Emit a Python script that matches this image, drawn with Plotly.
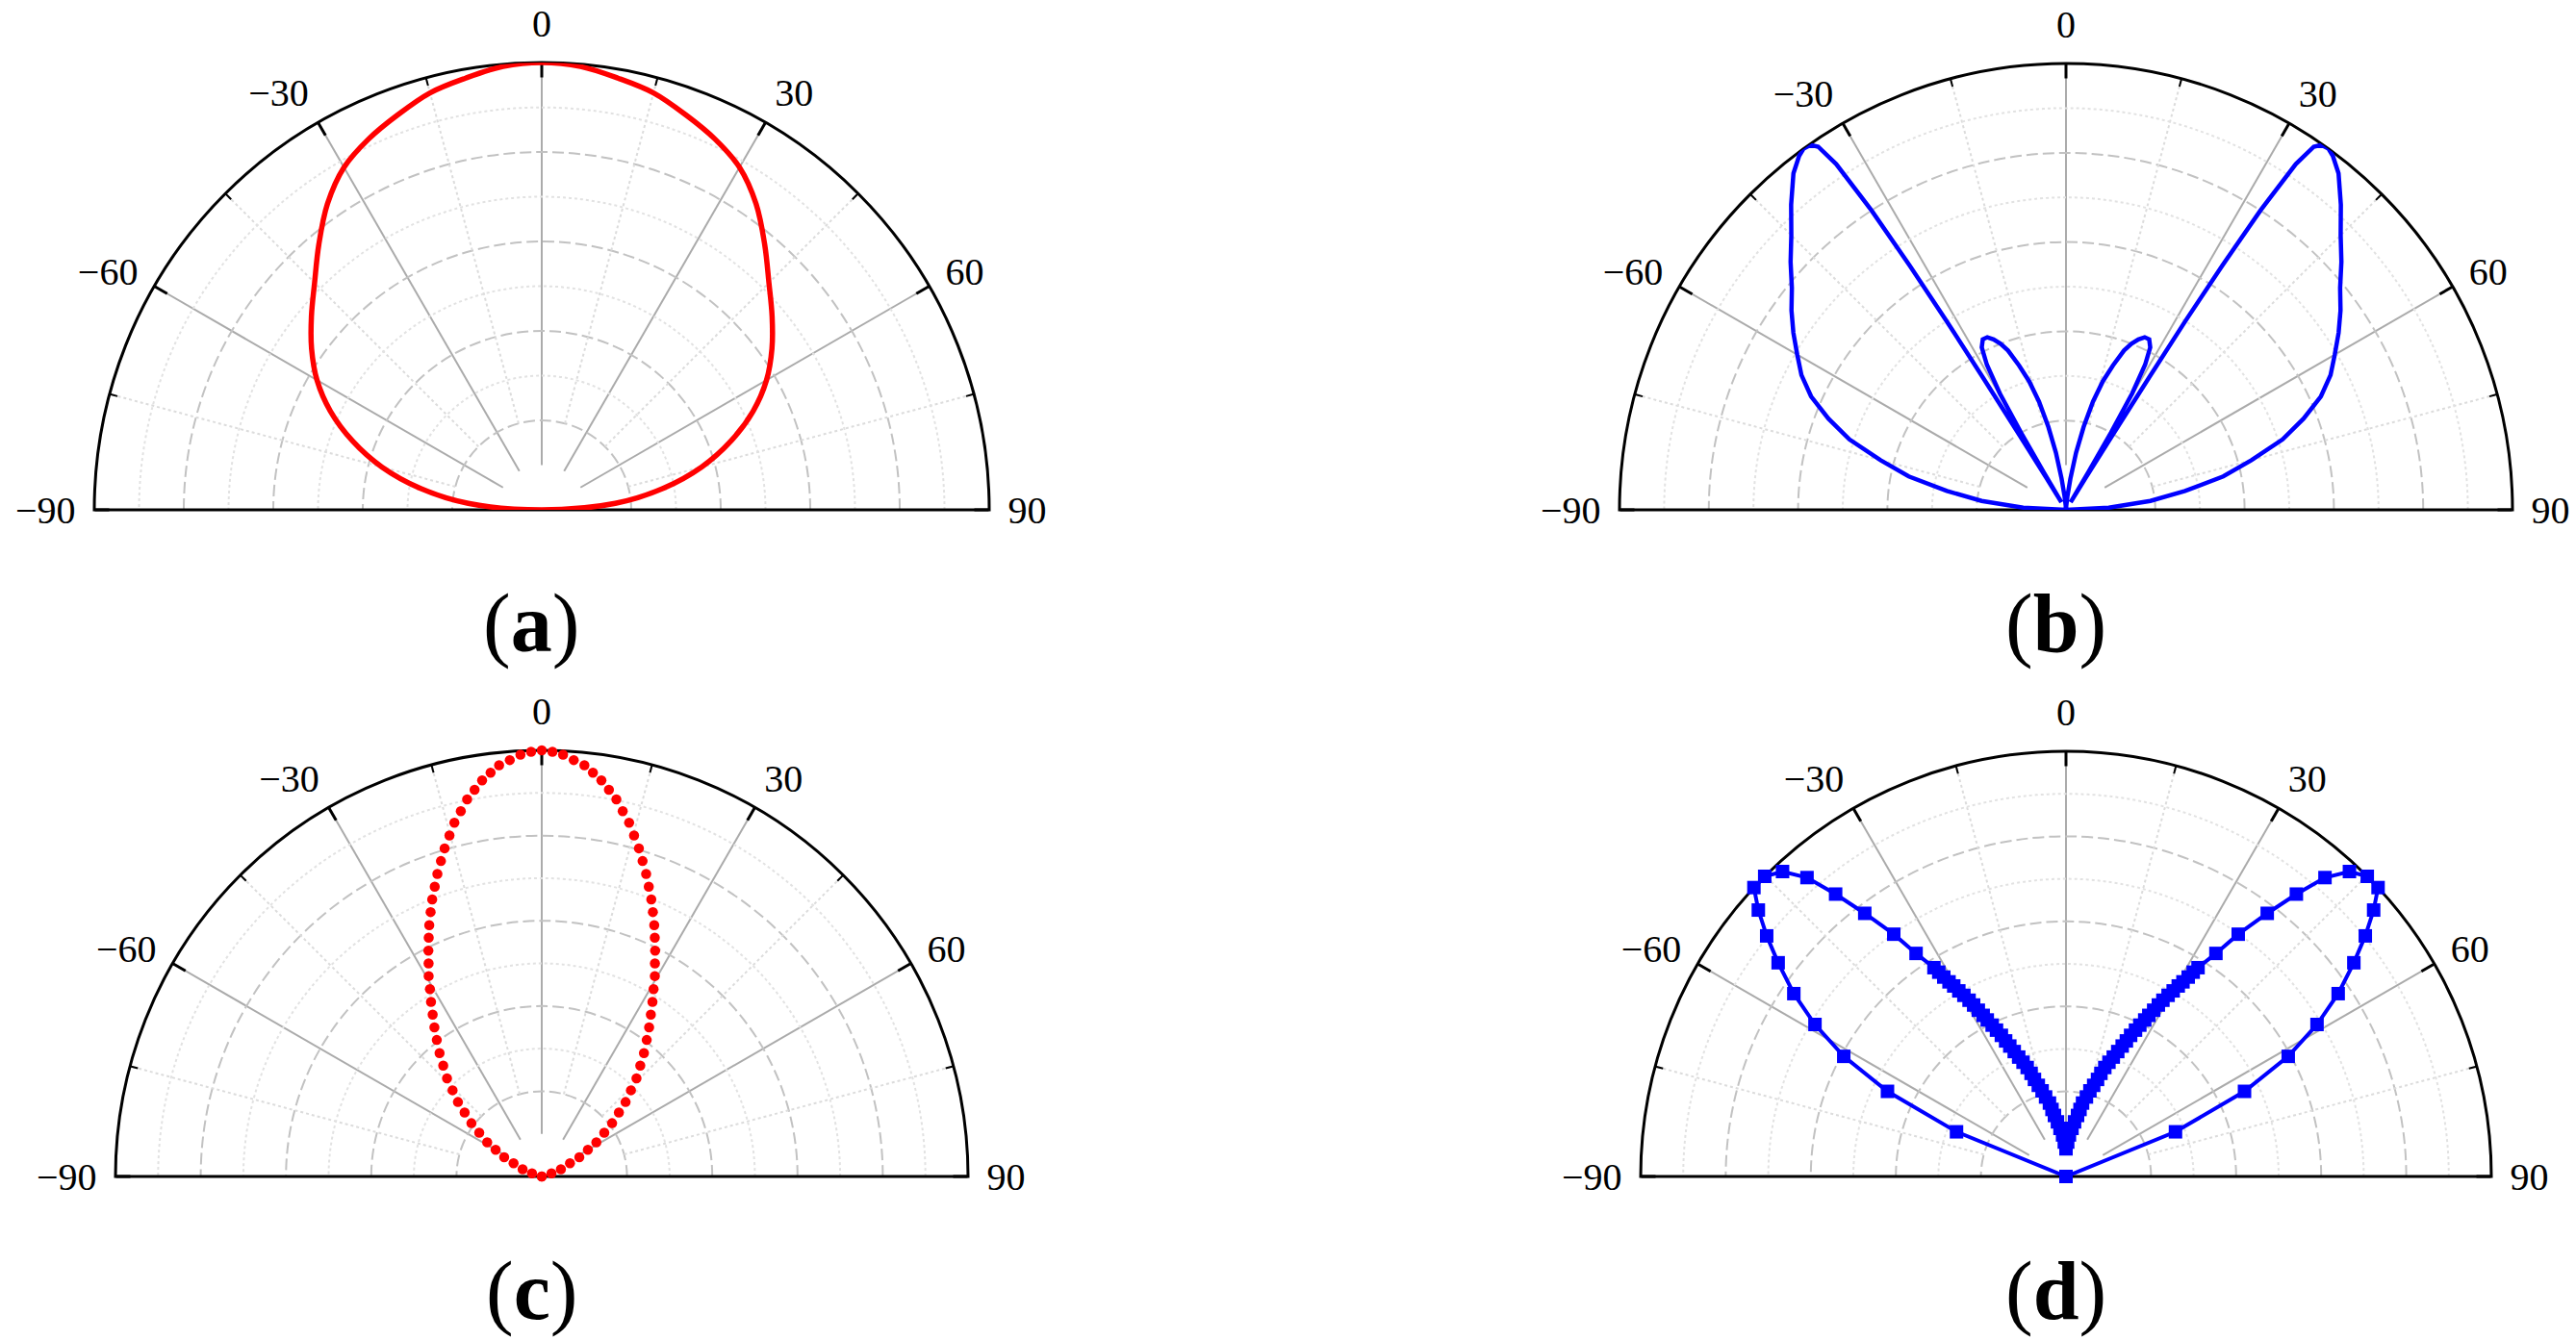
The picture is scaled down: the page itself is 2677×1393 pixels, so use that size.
import plotly.graph_objects as go

W, H = 2677, 1393

# ---------------- data (theta in degrees, r normalised) ----------------
# (a) red solid pattern
theta_a = [-90, -85, -80, -75, -70, -65, -60, -55, -50, -45, -40, -35, -30, -25, -20, -15, -10, -5, 0,
           5, 10, 15, 20, 25, 30, 35, 40, 45, 50, 55, 60, 65, 70, 75, 80, 85, 90]
r_a = [0.0, 0.165, 0.275, 0.37, 0.45, 0.521, 0.58, 0.628, 0.672, 0.718, 0.775, 0.835, 0.884, 0.915, 0.94,
       0.965, 0.98, 0.995, 1.0,
       0.995, 0.98, 0.965, 0.94, 0.915, 0.884, 0.835, 0.775, 0.718, 0.672, 0.628, 0.58, 0.521, 0.45, 0.37,
       0.275, 0.165, 0.0]

# (b) blue solid pattern
theta_b = [-90, -87, -84, -81, -78, -75, -72, -69, -66, -63, -60, -57, -54, -51, -48, -45, -42, -39, -37, -36,
           -35, -34.3, -33.6, -33.0, -32.6, -32.3, -32.1, -31.9, -31.6, -31.2, -30.6, -30.2, -29.6, -28.6,
           -27.4, -26.0, -24.5, -23.0, -21.5, -20.0, -18, -16, -14, -12, -10, -8, -6, -4, -2,
           0,
           2, 4, 6, 8, 10, 12, 14, 16, 18, 20, 21.5, 23, 24.5, 26, 27.4, 28.6, 29.6, 30.2, 30.6, 31.2,
           31.6, 31.9, 32.1, 32.3, 32.6, 33.0, 33.6, 34.3, 35, 36, 37, 39, 42, 45, 48, 51, 54, 57, 60, 63,
           66, 69, 72, 75, 78, 81, 84, 87, 90]
r_b = [0.0, 0.096, 0.19, 0.27, 0.36, 0.43, 0.51, 0.57, 0.625, 0.665, 0.695, 0.728, 0.76, 0.79, 0.83, 0.87,
       0.92, 0.97, 0.993, 1.0, 0.998, 0.985, 0.93, 0.8, 0.65, 0.5, 0.35, 0.2, 0.08, 0.02, 0.1, 0.2, 0.3,
       0.37, 0.41, 0.425, 0.425, 0.415, 0.4, 0.38, 0.34, 0.3, 0.25, 0.19, 0.13, 0.07, 0.03, 0.01, 0.0,
       0.0,
       0.0, 0.01, 0.03, 0.07, 0.13, 0.19, 0.25, 0.3, 0.34, 0.38, 0.4, 0.415, 0.425, 0.425, 0.41, 0.37,
       0.3, 0.2, 0.1, 0.02, 0.08, 0.2, 0.35, 0.5, 0.65, 0.8, 0.93, 0.985, 0.998, 1.0, 0.993, 0.97, 0.92,
       0.87, 0.83, 0.79, 0.76, 0.728, 0.695, 0.665, 0.625, 0.57, 0.51, 0.43, 0.36, 0.27, 0.19, 0.096, 0.0]

# (c) red dotted pattern
theta_c = [-90, -72, -69.3, -65.0, -62.9, -59.94, -58.0, -55.02, -52.85, -50.35, -48.38, -45.97, -43.99,
           -41.62, -39.61, -37.55, -35.75, -33.97, -32.38, -30.82, -29.42, -27.97, -26.65, -25.32, -24.11,
           -22.79, -21.57, -20.26, -19.03, -17.72, -16.49, -15.14, -13.87, -12.49, -11.19, -9.85, -8.56,
           -7.22, -5.92, -4.39, -2.89, -1.44,
           0,
           1.44, 2.89, 4.39, 5.92, 7.22, 8.56, 9.85, 11.19, 12.49, 13.87, 15.14, 16.49, 17.72, 19.03, 20.26,
           21.57, 22.79, 24.11, 25.32, 26.65, 27.97, 29.42, 30.82, 32.38, 33.97, 35.75, 37.55, 39.61, 41.62,
           43.99, 45.97, 48.38, 50.35, 52.85, 55.02, 58.0, 59.94, 62.9, 65.0, 69.3, 72, 90]
r_c = [0.0, 0.024, 0.048, 0.073, 0.099, 0.125, 0.151, 0.179, 0.207, 0.235, 0.263, 0.291, 0.320, 0.348,
       0.376, 0.404, 0.431, 0.458, 0.485, 0.512, 0.540, 0.566, 0.593, 0.620, 0.646, 0.673, 0.699, 0.725,
       0.751, 0.777, 0.803, 0.829, 0.855, 0.878, 0.902, 0.921, 0.940, 0.955, 0.970, 0.980, 0.991, 0.997,
       1.0,
       0.997, 0.991, 0.980, 0.970, 0.955, 0.940, 0.921, 0.902, 0.878, 0.855, 0.829, 0.803, 0.777, 0.751,
       0.725, 0.699, 0.673, 0.646, 0.620, 0.593, 0.566, 0.540, 0.512, 0.485, 0.458, 0.431, 0.404, 0.376,
       0.348, 0.320, 0.291, 0.263, 0.235, 0.207, 0.179, 0.151, 0.125, 0.099, 0.073, 0.048, 0.024, 0.0]

# (d) blue line with square markers
theta_d = [-90, -67.8, -64.5, -61.6, -58.8, -56.1, -53.4, -51.2, -49.1, -47.2, -45.1, -42.9, -40.9, -39.2,
           -37.4, -35.4, -33.9, -32.3, -31.9, -31.5, -31.0, -30.5, -30.0, -29.4, -28.8, -28.3, -27.8, -27.2,
           -26.7, -26.0, -25.4, -24.6, -24.0, -23.3, -22.5, -21.6, -20.6, -19.6, -18.7, -18.0, -16.9, -15.6,
           -14.4, -12.7, -11.8, -10.7, -8.9, -7.1, -4.7, -2.8,
           0,
           2.8, 4.7, 7.1, 8.9, 10.7, 11.8, 12.7, 14.4, 15.6, 16.9, 18.0, 18.7, 19.6, 20.6, 21.6, 22.5, 23.3,
           24.0, 24.6, 25.4, 26.0, 26.7, 27.2, 27.8, 28.3, 28.8, 29.4, 30.0, 30.5, 31.0, 31.5, 31.9, 32.3,
           33.9, 35.4, 37.4, 39.2, 40.9, 42.9, 45.1, 47.2, 49.1, 51.2, 53.4, 56.1, 58.8, 61.6, 64.5, 67.8, 90]
r_d = [0.0, 0.278, 0.465, 0.594, 0.690, 0.771, 0.843, 0.903, 0.957, 1.0, 1.0, 0.979, 0.930, 0.857, 0.779,
       0.699, 0.632, 0.581, 0.566, 0.550, 0.534, 0.520, 0.504, 0.489, 0.473, 0.458, 0.442, 0.426, 0.412,
       0.396, 0.381, 0.365, 0.349, 0.334, 0.318, 0.302, 0.287, 0.272, 0.256, 0.240, 0.224, 0.209, 0.193,
       0.177, 0.161, 0.146, 0.130, 0.114, 0.098, 0.081,
       0.065,
       0.081, 0.098, 0.114, 0.130, 0.146, 0.161, 0.177, 0.193, 0.209, 0.224, 0.240, 0.256, 0.272, 0.287,
       0.302, 0.318, 0.334, 0.349, 0.365, 0.381, 0.396, 0.412, 0.426, 0.442, 0.458, 0.473, 0.489, 0.504,
       0.520, 0.534, 0.550, 0.566, 0.581, 0.632, 0.699, 0.779, 0.857, 0.930, 0.979, 1.0, 1.0, 0.957,
       0.903, 0.843, 0.771, 0.690, 0.594, 0.465, 0.278, 0.0]

# axis ticks / labels
major_angles = [-90, -60, -30, 0, 30, 60, 90]
major_labels = ['\u221290', '\u221260', '\u221230', '0', '30', '60', '90']
minor_angles = [-75, -45, -15, 15, 45, 75]
major_radii = [0.2, 0.4, 0.6, 0.8]
minor_radii = [0.3, 0.5, 0.7, 0.9]
panel_letters = ['a', 'b', 'c', 'd']

# ---------------- layout geometry ----------------
panels = [
    dict(cx=563, cy=530, R=465, lx=552, ly=648),
    dict(cx=2147, cy=530, R=464, lx=2136, ly=648),
    dict(cx=563, cy=1223, R=443, lx=552, ly=1342),
    dict(cx=2147, cy=1223, R=442, lx=2136, ly=1342),
]

FONT = "Liberation Serif, Times New Roman, serif"
CLEAR = "rgba(0,0,0,0)"


def pid(k):
    return "polar" if k == 1 else f"polar{k}"


def hidden_radial(rng, tickvals=None, gridcolor=None, griddash=None, gridwidth=1):
    d = dict(range=rng, autorange=False, showline=False, showticklabels=False, ticks="")
    if tickvals is None:
        d.update(showgrid=False)
    else:
        d.update(showgrid=True, tickmode="array", tickvals=tickvals, gridcolor=gridcolor,
                 griddash=griddash, gridwidth=gridwidth)
    return d


polars = {}
for i, p in enumerate(panels):
    dom = dict(x=[(p["cx"] - p["R"]) / W, (p["cx"] + p["R"]) / W],
               y=[1 - p["cy"] / H, 1 - (p["cy"] - p["R"]) / H])
    k0 = 3 * i + 1
    # layer 1: major grid (starts at 0.1 R)
    polars[pid(k0)] = dict(
        domain=dom, sector=[0, 180], hole=0.1, bgcolor=CLEAR,
        radialaxis=hidden_radial([0.1, 1], major_radii, "#c2c2c2", "12px,5px", 1.6),
        angularaxis=dict(rotation=90, direction="clockwise", tickmode="array", tickvals=major_angles,
                         showgrid=True, gridcolor="#ababab", gridwidth=1.5, showline=False,
                         showticklabels=False, ticks="inside", ticklen=15, tickwidth=3, tickcolor="black"),
    )
    # layer 2: minor grid (starts at 0.2 R)
    polars[pid(k0 + 1)] = dict(
        domain=dom, sector=[0, 180], hole=0.2, bgcolor=CLEAR,
        radialaxis=hidden_radial([0.2, 1], minor_radii, "#e2e2e2", "dot", 1.5),
        angularaxis=dict(rotation=90, direction="clockwise", tickmode="array", tickvals=minor_angles,
                         showgrid=True, gridcolor="#dcdcdc", gridwidth=1.5, griddash="dot", showline=False,
                         showticklabels=False, ticks="inside", ticklen=8, tickwidth=2, tickcolor="black"),
    )
    # layer 3: outer arc, labels and data
    polars[pid(k0 + 2)] = dict(
        domain=dom, sector=[0, 180], hole=0, bgcolor=CLEAR,
        radialaxis=hidden_radial([0, 1]),
        angularaxis=dict(rotation=90, direction="clockwise", tickmode="array", tickvals=major_angles,
                         ticktext=major_labels, showgrid=False, showline=True, linecolor="black",
                         linewidth=3, ticks="outside", ticklen=10, tickcolor=CLEAR,
                         tickfont=dict(family=FONT, size=40, color="black"), layer="below traces"),
    )

fig = go.Figure()
# empty placeholder traces so that the grid-only polar layers get drawn
for i in range(len(panels)):
    for k in (3 * i + 1, 3 * i + 2):
        fig.add_trace(go.Scatterpolar(r=[None], theta=[None], mode="markers", subplot=pid(k),
                                      marker=dict(opacity=0), hoverinfo="skip", showlegend=False))

fig.add_trace(go.Scatterpolar(theta=theta_a, r=r_a, mode="lines", subplot=pid(3),
                              line=dict(color="#ff0000", width=5.5, shape="spline", smoothing=1)))
fig.add_trace(go.Scatterpolar(theta=theta_b, r=r_b, mode="lines", subplot=pid(6),
                              line=dict(color="#0000ff", width=4.5)))
fig.add_trace(go.Scatterpolar(theta=theta_c, r=r_c, mode="markers", subplot=pid(9),
                              marker=dict(color="#ff0000", size=10.5, symbol="circle")))
fig.add_trace(go.Scatterpolar(theta=theta_d, r=r_d, mode="lines+markers", subplot=pid(12),
                              line=dict(color="#0000ff", width=4),
                              marker=dict(color="#0000ff", size=14, symbol="square")))

annotations = []
for letter, p in zip(panel_letters, panels):
    annotations.append(dict(text=f"(<b>{letter}</b>)", x=p["lx"] / W, y=1 - p["ly"] / H,
                            xref="paper", yref="paper", xanchor="center", yanchor="middle",
                            showarrow=False, font=dict(family=FONT, size=86, color="black")))

fig.update_layout(width=W, height=H, margin=dict(l=0, r=0, t=0, b=0),
                  paper_bgcolor="white", plot_bgcolor="white", showlegend=False,
                  annotations=annotations, **polars)

fig.write_html("out.html", config={"displayModeBar": False},
               post_script="document.body.style.margin='0';")
